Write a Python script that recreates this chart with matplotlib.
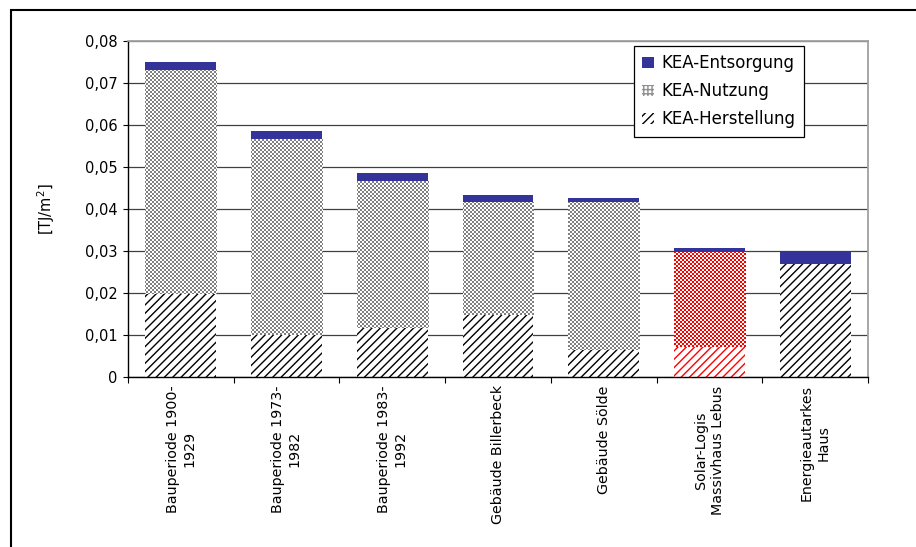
import numpy as np
import matplotlib
matplotlib.use('Agg')
import matplotlib.pyplot as plt
from matplotlib.colors import to_rgb
from matplotlib.patches import Patch, Rectangle

categories = ['Bauperiode 1900-\n1929', 'Bauperiode 1973-\n1982', 'Bauperiode 1983-\n1992',
              'Gebäude Billerbeck', 'Gebäude Sölde', 'Solar-Logis\nMassivhaus Lebus',
              'Energieautarkes\nHaus']
herstellung = [0.0200, 0.0102, 0.0119, 0.0150, 0.0067, 0.0074, 0.0269]
nutzung = [0.0531, 0.0465, 0.0348, 0.0267, 0.0350, 0.0224, 0.0]
entsorgung = [0.0019, 0.0019, 0.0019, 0.0016, 0.0009, 0.0009, 0.0031]
yticks = [0, 0.01, 0.02, 0.03, 0.04, 0.05, 0.06, 0.07, 0.08]
ytick_labels = ['0', '0,01', '0,02', '0,03', '0,04', '0,05', '0,06', '0,07', '0,08']
series_names = ['KEA-Entsorgung', 'KEA-Nutzung', 'KEA-Herstellung']

# style
blue = '#333399'
pattern_colors = ['black', 'black', 'black', 'black', 'black', '#ff0000', 'black']
checker_colors = ['#808080', '#808080', '#808080', '#808080', '#808080', '#ff0000', '#808080']

plt.rcParams['hatch.linewidth'] = 1.0
plt.rcParams['font.family'] = ['DejaVu Sans']

W, H = 916, 547
AX_X, AX_Y, AX_W, AX_H = 128, 170, 740, 336
fig = plt.figure(figsize=(W / 100, H / 100), dpi=100)
ax = fig.add_axes([AX_X / W, AX_Y / H, AX_W / W, AX_H / H])

x = np.arange(len(categories))
width = 0.67
herst = np.array(herstellung)
nutz = np.array(nutzung)
ents = np.array(entsorgung)
xmin, xmax = -0.5, len(categories) - 0.5

b_h = ax.bar(x, herst, width, color='white', edgecolor=pattern_colors, linewidth=0,
             hatch='////', zorder=2)
b_n = ax.bar(x, nutz, width, bottom=herst, color='white', linewidth=0, zorder=2)
b_e = ax.bar(x, ents, width, bottom=herst + nutz, color=blue, linewidth=0, zorder=2)

ax.set_xlim(xmin, xmax)
ax.set_ylim(0, 0.08)

# checkerboard fill for the "Nutzung" parts, placed pixel-for-pixel with figimage
# (no resampling) and clipped to each bar
yy, xx = np.mgrid[0:AX_H, 0:AX_W]
cells = ((xx // 2 + yy // 2) % 2).astype(bool)
for rect, c in zip(b_n, checker_colors):
    if rect.get_height() <= 0:
        continue
    rgb = np.ones((AX_H, AX_W, 3))
    rgb[cells] = to_rgb(c)
    im = fig.figimage(rgb, xo=AX_X, yo=AX_Y, origin='lower', zorder=1)
    im.set_clip_path(rect)

ax.set_yticks(yticks)
ax.set_yticklabels(ytick_labels, fontsize=10.5)
ax.tick_params(axis='y', direction='out', length=3.5, width=0.8, pad=4)
ax.yaxis.grid(True, color='#404040', linewidth=0.9)
ax.set_axisbelow(True)

ax.set_xticks(x)
ax.set_xticklabels(categories, rotation=90, ha='center', va='top',
                   multialignment='center', fontsize=10.3)
ax.set_xticks(np.arange(xmin, xmax + 0.1, 1), minor=True)
ax.tick_params(axis='x', which='major', length=0, pad=6)
ax.tick_params(axis='x', which='minor', direction='out', length=4, width=0.8)

ax.set_ylabel('[TJ/m$^2$]', fontsize=10.5, labelpad=20)

for s in ['left', 'bottom']:
    ax.spines[s].set_color('black')
    ax.spines[s].set_linewidth(1.0)
for s in ['top', 'right']:
    ax.spines[s].set_color('#a0a0a0')
    ax.spines[s].set_linewidth(1.3)

handles = [Patch(facecolor=blue, edgecolor=blue, linewidth=0),
           Patch(facecolor='white', edgecolor='#909090', hatch='++++', linewidth=0),
           Patch(facecolor='white', edgecolor='black', hatch='////', linewidth=0)]
leg = fig.legend(handles, series_names, loc='upper left',
                 bbox_to_anchor=(634 / W, 1 - 46 / H), borderaxespad=0,
                 fontsize=12, frameon=True, fancybox=False, framealpha=1,
                 edgecolor='black', handlelength=0.7, handleheight=0.7,
                 handletextpad=0.45, labelspacing=0.6, borderpad=0.5)
leg.set_zorder(5)
leg.get_frame().set_linewidth(0.9)

# outer chart frame (cut by the image edges on the right and bottom)
fig.add_artist(Rectangle((11 / W, -0.5), 2, 1.5 - 10 / H, transform=fig.transFigure,
                         fill=False, edgecolor='black', linewidth=1.5))

fig.savefig('out.png', dpi=100)
